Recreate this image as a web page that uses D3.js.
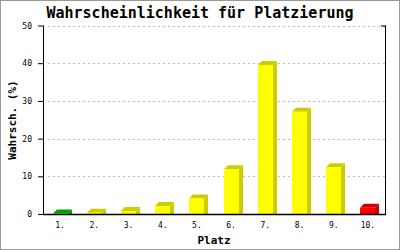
<!DOCTYPE html>
<html><head><meta charset="utf-8">
<script src="https://cdn.jsdelivr.net/npm/d3@7"></script>
<style>body{margin:0;background:#fff}svg{display:block}</style>
</head><body><svg id="c" width="400" height="250"></svg>
<script>
const categories = ["1.","2.","3.","4.","5.","6.","7.","8.","9.","10."];
const values = [0.15,0.3,0.8,2.1,4.1,11.9,39.5,27.1,12.4,1.65];
const yTicks = [0,10,20,30,40,50];
const faceColors = ["#00cc00","#ffff00","#ffff00","#ffff00","#ffff00","#ffff00","#ffff00","#ffff00","#ffff00","#ff0000"];
const sideColors = ["#00a000","#cccc00","#cccc00","#cccc00","#cccc00","#cccc00","#cccc00","#cccc00","#cccc00","#cc0000"];

const svg = d3.select("#c");
const L=43,R=385,T=25.5,B=214;
const x = d3.scaleBand().domain(categories).range([L,R]);
const y = d3.scaleLinear().domain([0,50]).range([B,T]);
const mono = "'DejaVu Sans Mono','Liberation Mono',monospace";

svg.append("rect").attr("x",0.5).attr("y",0.5).attr("width",399).attr("height",249)
  .attr("fill","#fff").attr("stroke","#999").attr("stroke-width",1);

// grid
svg.append("g").selectAll("line").data(yTicks.filter(d=>d>0)).join("line")
  .attr("x1",L+5).attr("x2",R).attr("y1",d=>Math.round(y(d))+0.5).attr("y2",d=>Math.round(y(d))+0.5)
  .attr("stroke","#bbb").attr("stroke-dasharray","2,3");

// bars
const bw=15, dep=4;
const g = svg.append("g");
categories.forEach((c,i)=>{
  const cx = x(c)+x.bandwidth()/2;
  const x0 = Math.round(cx-7.5);
  const yt = y(values[i]);
  // side
  g.append("polygon").attr("points",[[x0+bw,yt],[x0+bw+dep,yt-dep],[x0+bw+dep,B],[x0+bw,B]].join(" ")).attr("fill",sideColors[i]);
  // top
  g.append("polygon").attr("points",[[x0,yt],[x0+dep,yt-dep],[x0+bw+dep,yt-dep],[x0+bw,yt]].join(" ")).attr("fill",sideColors[i]);
  g.append("rect").attr("x",x0).attr("y",yt).attr("width",bw).attr("height",B-yt).attr("fill",faceColors[i]);
});

// axes
const ya = svg.append("g").attr("transform",`translate(${L},0)`)
  .call(d3.axisLeft(y).tickValues(yTicks).tickSize(5).tickPadding(6));
ya.select(".domain").remove();
ya.selectAll(".tick line").attr("stroke","#000");
ya.selectAll("text").attr("font-family",mono).attr("font-size",8).attr("fill","#000");
svg.append("line").attr("x1",L+0.5).attr("x2",L+0.5).attr("y1",T).attr("y2",B).attr("stroke","#000");
svg.append("line").attr("x1",R+0.5).attr("x2",R+0.5).attr("y1",T).attr("y2",B).attr("stroke","#000");
svg.append("line").attr("x1",R-4).attr("x2",R+1).attr("y1",T+0.5).attr("y2",T+0.5).attr("stroke","#000");
svg.append("line").attr("x1",L).attr("x2",R+1).attr("y1",B+0.5).attr("y2",B+0.5).attr("stroke","#000").attr("stroke-width",1.5);

const xa = svg.append("g").attr("transform",`translate(0,${B})`)
  .call(d3.axisBottom(x).tickSize(0).tickPadding(8));
xa.select(".domain").remove();
xa.selectAll("text").attr("font-family",mono).attr("font-size",8).attr("fill","#000");

svg.append("text").attr("x",200).attr("y",18).attr("text-anchor","middle")
  .attr("font-family",mono).attr("font-size",15).attr("font-weight","bold").text("Wahrscheinlichkeit für Platzierung");
svg.append("text").attr("x",214).attr("y",244).attr("text-anchor","middle")
  .attr("font-family",mono).attr("font-size",11).attr("font-weight","bold").text("Platz");
svg.append("text").attr("transform","translate(16,120) rotate(-90)").attr("text-anchor","middle")
  .attr("font-family",mono).attr("font-size",11).attr("font-weight","bold").text("Wahrsch. (%)");
</script></body></html>
